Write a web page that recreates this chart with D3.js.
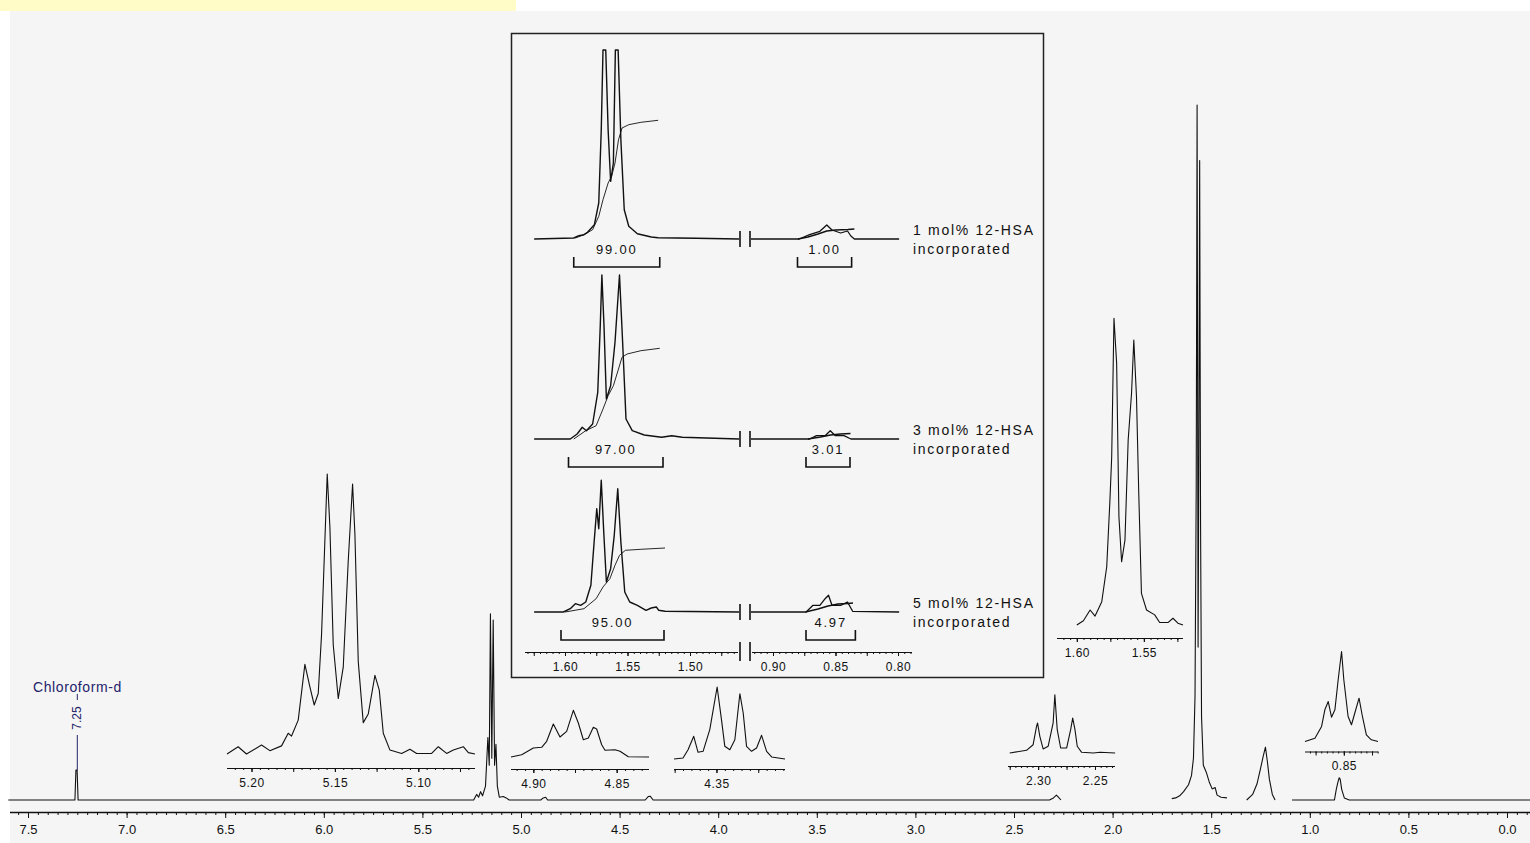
<!DOCTYPE html>
<html><head><meta charset="utf-8">
<script src="https://cdn.jsdelivr.net/npm/d3@7"></script>
<style>
body{margin:0;background:#fff;}
svg{display:block;}
</style>
</head><body>
<svg id="c" width="1530" height="843"></svg>
<script>
// ---------------- DATA ----------------
// main spectrum (ppm, relative intensity, tallest = 100), drawn in broken segments as in the picture
const mainSegA = [[7.60,0],[7.262,0],[7.257,4.3],[7.251,4.3],[7.246,0],[5.24,0],[5.225,0.8],[5.215,0.4],[5.205,1.2],[5.195,0.6],[5.18,2],[5.168,9],[5.161,5],[5.155,26.8],[5.148,6],[5.141,25.9],[5.134,5],[5.127,8],[5.12,2],[5.11,0.4],[5.09,0.5],[5.075,0.3],[5.06,0],[4.90,0],[4.887,0.3],[4.875,0.4],[4.865,0],[4.37,0],[4.355,0.5],[4.345,0.55],[4.33,0],[2.32,0],[2.30,0.3],[2.285,0.7],[2.275,0.4],[2.262,0]];
const mainSegB = [[1.70,0.2],[1.68,0.3],[1.66,0.6],[1.64,1.2],[1.615,2.2],[1.60,3.5],[1.59,6],[1.582,15],[1.576,45],[1.5715,100],[1.5665,22],[1.5625,50],[1.5585,92],[1.554,40],[1.549,12],[1.54,5],[1.525,4],[1.51,2.6],[1.495,1.6],[1.48,1.8],[1.47,0.7],[1.45,0.4],[1.42,0.3]];
const mainSegC = [[1.32,0],[1.29,0.8],[1.268,2.3],[1.25,4.5],[1.237,6.2],[1.225,7.6],[1.215,5.5],[1.205,3],[1.19,0.8],[1.176,0]];
const mainSegD = [[1.09,0],[0.875,0],[0.866,1.5],[0.858,2.5],[0.851,3.2],[0.846,3.0],[0.838,1.5],[0.825,0.3],[0.80,0],[-0.12,0]];
const mainTickLabels = ["7.5","7.0","6.5","6.0","5.5","5.0","4.5","4.0","3.5","3.0","2.5","2.0","1.5","1.0","0.5","0.0"];
const solventName = "Chloroform-d";
const solventShift = "7.25";

// expansions (ppm, relative intensity, tallest = 100)
const exp515 = [[5.2147,0],[5.208,2.6],[5.203,0],[5.194,3.2],[5.189,1.2],[5.182,2.9],[5.178,7.4],[5.176,6.4],[5.172,12.1],[5.168,32],[5.165,24],[5.1624,17.5],[5.160,21.6],[5.158,42.8],[5.1546,100],[5.153,81],[5.151,39],[5.148,19.8],[5.145,31],[5.142,69],[5.1394,96.4],[5.138,78.4],[5.136,33],[5.133,11.2],[5.130,14.3],[5.126,28.1],[5.1234,22.8],[5.121,7.4],[5.117,1.4],[5.110,0.2],[5.105,1.7],[5.101,0.2],[5.092,0.2],[5.088,2.6],[5.083,0.2],[5.079,1.4],[5.073,2.6],[5.070,0.5],[5.066,0]];
const exp515Labels = ["5.20","5.15","5.10"];
const exp487 = [[4.9134,0],[4.907,4.9],[4.900,19.3],[4.895,20.8],[4.892,33.6],[4.888,70.7],[4.884,42.8],[4.880,55],[4.876,100],[4.873,72.8],[4.870,37],[4.867,40.7],[4.864,63.6],[4.862,60],[4.859,26.3],[4.857,14.3],[4.851,15.6],[4.848,12.2],[4.843,0.6],[4.8306,0]];
const exp487Labels = ["4.90","4.85"];
const exp435 = [[4.3754,0],[4.370,1.4],[4.367,12.9],[4.3636,31.5],[4.361,9.3],[4.358,10.7],[4.354,40.7],[4.3496,100],[4.347,54.6],[4.345,17.6],[4.342,12.9],[4.339,26.8],[4.336,90.7],[4.334,63.9],[4.332,17.6],[4.329,10.7],[4.326,15.3],[4.323,32.9],[4.320,10.7],[4.317,2.8],[4.309,0]];
const exp435Labels = ["4.35"];
const exp228 = [[2.325,0],[2.3102,4.6],[2.3044,14.2],[2.3014,45.8],[2.3005,51.5],[2.2985,28.6],[2.2956,6.9],[2.2912,11.5],[2.2868,51.5],[2.2853,100],[2.2832,40],[2.2802,8.6],[2.2749,8.6],[2.2714,40],[2.2696,60],[2.2676,40],[2.2656,11.5],[2.2617,1.2],[2.2515,0],[2.2455,1.2],[2.2323,0]];
const exp228Labels = ["2.30","2.25"];
const exp157 = [[1.600,0],[1.5951,1.4],[1.5901,4.9],[1.5864,2.9],[1.5814,7.6],[1.5777,19],[1.5753,40.8],[1.574,54.8],[1.5723,100],[1.5703,85.3],[1.5686,35.3],[1.5666,20.6],[1.5641,27.7],[1.5617,60.3],[1.5592,75.5],[1.5575,92.9],[1.5555,74.4],[1.5538,42.9],[1.5518,10.3],[1.548,4.9],[1.5419,3.3],[1.5382,0.8],[1.532,0.8],[1.5283,2.2],[1.5246,0.6],[1.5208,0]];
const exp157Labels = ["1.60","1.55"];
const exp085 = [[0.8844,0],[0.8756,3.7],[0.8697,16.7],[0.8668,35.2],[0.8638,44.4],[0.8609,27],[0.8579,35.2],[0.855,68.6],[0.852,100],[0.85,68.6],[0.8462,27.8],[0.8432,18.6],[0.8403,31.4],[0.8365,48.1],[0.8335,27.8],[0.83,7.4],[0.8256,1.9],[0.8197,0]];
const exp085Labels = ["0.85"];

// stacked inset: three samples (ppm, intensity a.u.; 190 = clipped full scale)
const row1Left = [[1.6247,0],[1.593,1],[1.5889,3.3],[1.5848,4.3],[1.582,6.7],[1.5765,14.3],[1.573,36],[1.571,109],[1.5696,189],[1.5674,189],[1.5655,109],[1.5635,57.7],[1.5613,76],[1.5597,189],[1.5575,189],[1.5553,99],[1.5526,29.3],[1.549,12.7],[1.5421,5.3],[1.531,2],[1.5255,1.3],[1.4952,0.7],[1.4608,0]];
const row1Right = [[0.9176,0],[0.879,0],[0.8707,4.3],[0.8625,7.7],[0.857,14],[0.8528,9],[0.8459,6],[0.8404,8],[0.8377,3],[0.8349,0],[0.7991,0]];
const row1Integral = [[1.5917,1],[1.5848,4.3],[1.5779,9.3],[1.573,22.7],[1.5696,39.3],[1.5655,56],[1.5627,62.7],[1.56,76],[1.5572,99.3],[1.5544,111],[1.549,114.3],[1.5393,116.7],[1.5255,118.7]];
const row1RightIntegral = [[0.88,0],[0.872,2],[0.864,5],[0.857,8],[0.85,9],[0.84,9.5],[0.8349,10]];
const row2Left = [[1.6247,0],[1.5958,0],[1.5903,5],[1.5862,11.7],[1.5829,8.3],[1.5779,15],[1.5738,46.7],[1.5718,113],[1.5705,164],[1.5688,113],[1.5669,40],[1.5635,53.3],[1.56,96.7],[1.5564,164],[1.5539,96.7],[1.5512,20],[1.5462,8.3],[1.5366,4],[1.5228,1.7],[1.5146,3.3],[1.5062,1.7],[1.4608,0]];
const row2Right = [[0.9176,0],[0.8707,0],[0.8652,3.3],[0.8583,3.3],[0.8542,8.3],[0.8501,3.3],[0.8432,3.3],[0.8377,0],[0.7991,0]];
const row2Integral = [[1.593,0],[1.5834,8.3],[1.5751,13.3],[1.5696,30],[1.5655,43.3],[1.5613,53.3],[1.5572,70],[1.5544,81.7],[1.5503,85],[1.5393,88.3],[1.5242,90.7]];
const row2RightIntegral = [[0.872,0],[0.862,2],[0.854,4],[0.846,5],[0.838,5.5]];
const row3Left = [[1.6247,0],[1.6013,0],[1.5958,3.3],[1.5917,8.3],[1.5875,6.7],[1.5834,10],[1.5793,26.7],[1.5765,73.3],[1.5746,103.3],[1.573,83.3],[1.571,131.7],[1.569,80],[1.5669,30],[1.5635,43.3],[1.5606,76.7],[1.5578,123.3],[1.5553,70],[1.5522,20],[1.5482,10],[1.5421,6.7],[1.5352,1.7],[1.531,4],[1.5269,5],[1.525,1.7],[1.52,0.7],[1.4608,0]];
const row3Right = [[0.9176,0],[0.8735,0],[0.868,6.7],[0.8625,6.7],[0.8583,13.3],[0.8556,16.7],[0.8528,6.7],[0.8459,6.7],[0.8404,10],[0.8363,0.7],[0.7991,0]];
const row3Integral = [[1.5999,0],[1.5848,3.3],[1.5751,13.3],[1.5696,25],[1.5641,33.3],[1.56,46.7],[1.5564,56.7],[1.5517,61.7],[1.5393,62.7],[1.52,64]];
const row3RightIntegral = [[0.874,0],[0.864,3],[0.856,6],[0.848,8],[0.84,8.5],[0.836,9]];
const rowLabels = ["1 mol% 12-HSA","3 mol% 12-HSA","5 mol% 12-HSA"];
const rowLabel2 = "incorporated";
const integralLeftValues = ["99.00","97.00","95.00"];
const integralRightValues = ["1.00","3.01","4.97"];
const integralLeftRanges = [[1.593,1.5242],[1.5972,1.5216],[1.6032,1.5208]];
const integralRightRanges = [[0.8804,0.8371],[0.8736,0.8384],[0.8736,0.8341]];
const insetLeftLabels = ["1.60","1.55","1.50"];
const insetRightLabels = ["0.90","0.85","0.80"];

// ---------------- DRAWING ----------------
const W = 1530, H = 843;
const FONT = "'Liberation Sans', Arial, sans-serif";
const INK = "#111";
const svg = d3.select("#c");
svg.append("rect").attr("width", W).attr("height", H).attr("fill", "#fff");
svg.append("rect").attr("x", 10).attr("y", 11).attr("width", W - 10).attr("height", H - 11).attr("fill", "#f5f5f5");
svg.append("rect").attr("x", 0).attr("y", 0).attr("width", 516).attr("height", 11).attr("fill", "#fffcc8");

function stepVals(a, b, step) {
  const lo = Math.min(a, b), hi = Math.max(a, b), out = [];
  for (let k = Math.ceil(lo / step - 1e-6); k * step <= hi + 1e-9; k++) out.push(+(k * step).toFixed(4));
  return out;
}

function drawLine(g, data, xs, ys, width, color) {
  g.append("path").datum(data)
    .attr("d", d3.line().x(d => xs(d[0])).y(d => ys(d[1])))
    .attr("fill", "none").attr("stroke", color || INK).attr("stroke-width", width)
    .attr("stroke-linejoin", "round");
}

function drawAxis(g, xs, y, labels, o) {
  const dom = xs.domain();
  g.append("line").attr("x1", xs.range()[0]).attr("x2", xs.range()[1])
    .attr("y1", y + 0.5).attr("y2", y + 0.5).attr("stroke", INK).attr("stroke-width", o.lw || 1.2);
  const minor = stepVals(dom[0], dom[1], o.minor);
  g.append("g").attr("transform", `translate(0,${y})`)
    .call(d3.axisBottom(xs).tickValues(minor).tickSize(o.minorLen).tickFormat(""))
    .call(s => s.select(".domain").remove())
    .call(s => s.selectAll("line").attr("stroke", INK));
  if (o.mid) {
    g.append("g").attr("transform", `translate(0,${y})`)
      .call(d3.axisBottom(xs).tickValues(stepVals(dom[0], dom[1], o.mid)).tickSize(o.midLen).tickFormat(""))
      .call(s => s.select(".domain").remove())
      .call(s => s.selectAll("line").attr("stroke", INK));
  }
  g.append("g").attr("transform", `translate(0,${y})`)
    .call(d3.axisBottom(xs).tickValues(labels.map(Number)).tickSize(o.majorLen)
      .tickPadding(o.pad).tickFormat((d, i) => labels[i]))
    .call(s => s.select(".domain").remove())
    .call(s => s.selectAll("line").attr("stroke", INK))
    .attr("font-family", FONT).attr("font-size", o.fs)
    .call(s => s.selectAll("text").attr("fill", INK).attr("letter-spacing", o.ls || 0));
}

// ---- main spectrum ----
const gMain = svg.append("g");
const x = d3.scaleLinear().domain([7.5, 0]).range([28, 1507]);
const y = d3.scaleLinear().domain([0, 100]).range([800, 105]);
[mainSegA, mainSegB, mainSegC, mainSegD].forEach(seg => drawLine(gMain, seg, x, y, 1.1));

// main axis
const xAxisScale = x.copy().domain([x.invert(10), x.invert(1530)]).range([10, 1530]);
drawAxis(gMain, xAxisScale, 812, mainTickLabels, {minor: 0.05, minorLen: 3, majorLen: 6, pad: 7, fs: 13, lw: 1.3});

// solvent label
const xs7 = x(+solventShift);
const navy = "#23236a";
gMain.append("text").attr("x", 33).attr("y", 692).text(solventName)
  .attr("font-family", FONT).attr("font-size", 14).attr("fill", navy).attr("letter-spacing", 0.6);
gMain.append("line").attr("x1", xs7).attr("x2", xs7).attr("y1", 694).attr("y2", 700).attr("stroke", navy).attr("stroke-width", 1);
gMain.append("text").attr("transform", `translate(${xs7 + 4},718) rotate(-90)`).attr("text-anchor", "middle")
  .text(solventShift).attr("font-family", FONT).attr("font-size", 12).attr("fill", navy);
gMain.append("line").attr("x1", xs7).attr("x2", xs7).attr("y1", 735).attr("y2", y(4.3)).attr("stroke", navy).attr("stroke-width", 1);

// ---- expansions ----
const expansions = [
  {data: exp515, labels: exp515Labels, dom: [5.2147, 5.066], xr: [227, 475], base: 754, h: 280, ay: 768},
  {data: exp487, labels: exp487Labels, dom: [4.9134, 4.8306], xr: [511, 649], base: 757, h: 46.7, ay: 769},
  {data: exp435, labels: exp435Labels, dom: [4.3754, 4.309], xr: [674, 785], base: 759, h: 72, ay: 769},
  {data: exp228, labels: exp228Labels, dom: [2.3265, 2.2324], xr: [1008, 1115], base: 753, h: 58.3, ay: 766},
  {data: exp157, labels: exp157Labels, dom: [1.6148, 1.5208], xr: [1057, 1183], base: 625, h: 306.7, ay: 638},
  {data: exp085, labels: exp085Labels, dom: [0.8844, 0.8197], xr: [1305, 1378], base: 741.5, h: 90, ay: 751.5}
];
expansions.forEach(e => {
  const g = svg.append("g");
  const xs = d3.scaleLinear().domain(e.dom).range(e.xr);
  const ys = d3.scaleLinear().domain([0, 100]).range([e.base, e.base - e.h]);
  drawLine(g, e.data, xs, ys, 1.1);
  drawAxis(g, xs, e.ay, e.labels, {minor: 0.005, minorLen: 2, mid: 0.025, midLen: 4, majorLen: 4, pad: 6, fs: 12, lw: 1.2, ls: 0.5});
});

// ---- stacked inset box ----
const gBox = svg.append("g");
gBox.append("rect").attr("x", 511.5).attr("y", 33.5).attr("width", 532).attr("height", 644)
  .attr("fill", "none").attr("stroke", "#222").attr("stroke-width", 1.5);
const xL = d3.scaleLinear().domain([1.632, 1.4616]).range([525, 738]);
const xR = d3.scaleLinear().domain([0.9168, 0.7888]).range([752, 912]);
const rows = [
  {base: 239, left: row1Left, right: row1Right, integ: row1Integral, integR: row1RightIntegral},
  {base: 439, left: row2Left, right: row2Right, integ: row2Integral, integR: row2RightIntegral},
  {base: 612, left: row3Left, right: row3Right, integ: row3Integral, integR: row3RightIntegral}
];
rows.forEach((r, i) => {
  const ys = d3.scaleLinear().domain([0, 190]).range([r.base, r.base - 190]);
  drawLine(gBox, r.left, xL, ys, 1.4);
  drawLine(gBox, r.right, xR, ys, 1.3);
  drawLine(gBox, r.integ, xL, ys, 0.9);
  drawLine(gBox, r.integR, xR, ys, 1.4);
  [740, 750].forEach(bx => gBox.append("line").attr("x1", bx).attr("x2", bx)
    .attr("y1", r.base - 8).attr("y2", r.base + 8).attr("stroke", INK).attr("stroke-width", 1.6));
  [[integralLeftRanges[i], integralLeftValues[i], xL], [integralRightRanges[i], integralRightValues[i], xR]].forEach(([rg, val, xs]) => {
    const a = xs(rg[0]), b = xs(rg[1]), by = r.base + 28;
    gBox.append("path").attr("d", `M${a},${by - 10}V${by}H${b}V${by - 10}`)
      .attr("fill", "none").attr("stroke", INK).attr("stroke-width", 1.6);
    gBox.append("text").attr("x", (a + b) / 2).attr("y", r.base + 15).attr("text-anchor", "middle")
      .text(val).attr("font-family", FONT).attr("font-size", 13).attr("fill", INK).attr("letter-spacing", 1.8);
  });
  gBox.append("text").attr("x", 913).attr("y", r.base - 4).text(rowLabels[i])
    .attr("font-family", FONT).attr("font-size", 14).attr("fill", INK).attr("letter-spacing", 1.7);
  gBox.append("text").attr("x", 913).attr("y", r.base + 15).text(rowLabel2)
    .attr("font-family", FONT).attr("font-size", 14).attr("fill", INK).attr("letter-spacing", 1.7);
});
const axY = 652;
drawAxis(gBox, xL, axY, insetLeftLabels, {minor: 0.005, minorLen: 2, mid: 0.025, midLen: 4, majorLen: 4, pad: 6, fs: 12, lw: 1.2, ls: 0.5});
drawAxis(gBox, xR, axY, insetRightLabels, {minor: 0.005, minorLen: 2, mid: 0.025, midLen: 4, majorLen: 4, pad: 6, fs: 12, lw: 1.2, ls: 0.5});
[740, 750].forEach(bx => gBox.append("line").attr("x1", bx).attr("x2", bx)
  .attr("y1", axY - 10).attr("y2", axY + 9).attr("stroke", INK).attr("stroke-width", 1.6));
</script>
</body></html>
